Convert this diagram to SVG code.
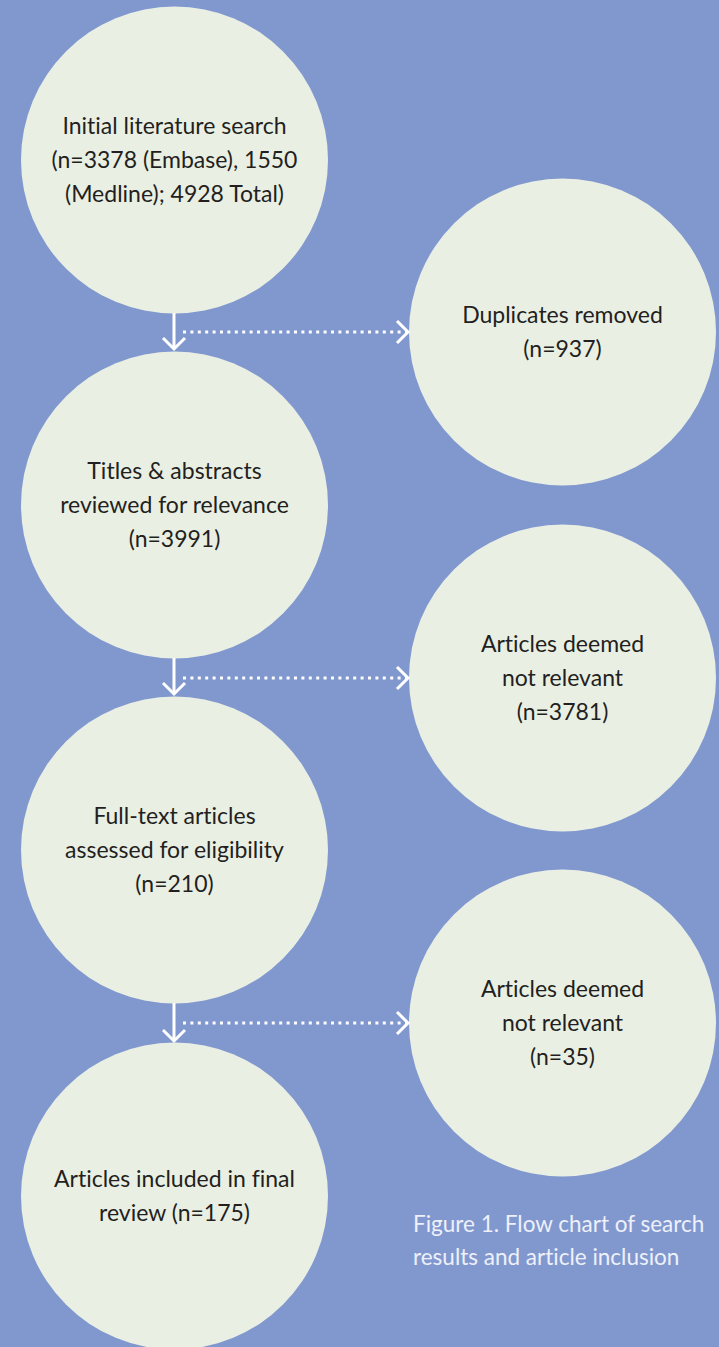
<svg xmlns="http://www.w3.org/2000/svg" width="719" height="1347" viewBox="0 0 719 1347">
<style>
.node circle{fill:#eaefe4}
.node text{font-family:Lato,"Liberation Sans",sans-serif;font-size:23px;fill:#231f20;text-anchor:middle;font-variant-ligatures:no-common-ligatures}
.cap{font-family:Lato,"Liberation Sans",sans-serif;font-size:22.5px;fill:#eef0fa;font-variant-ligatures:no-common-ligatures}
.solid{stroke:#fff;stroke-width:3;fill:none}
.dot{stroke:#fff;stroke-width:3.2;fill:none;stroke-dasharray:3 4.4}
.head{stroke:#fff;stroke-width:3;fill:none;stroke-linejoin:miter}
</style>
<rect width="719" height="1347" fill="#8198cf"/>
<g id="n1" class="node"><circle cx="174.5" cy="160" r="153.5"/>
<text x="174.5" y="134">Initial literature search</text>
<text x="174.5" y="168">(n=3378 (Embase), 1550</text>
<text x="174.5" y="202">(Medline); 4928 Total)</text></g>
<g id="n2" class="node"><circle cx="174.5" cy="505" r="153.5"/>
<text x="174.5" y="479">Titles &amp; abstracts</text>
<text x="174.5" y="513">reviewed for relevance</text>
<text x="174.5" y="547">(n=3991)</text></g>
<g id="n3" class="node"><circle cx="174.5" cy="850" r="153.5"/>
<text x="174.5" y="824">Full-text articles</text>
<text x="174.5" y="858">assessed for eligibility</text>
<text x="174.5" y="892">(n=210)</text></g>
<g id="n4" class="node"><circle cx="174.5" cy="1196" r="153.5"/>
<text x="174.5" y="1187">Articles included in final</text>
<text x="174.5" y="1221">review (n=175)</text></g>
<g id="r1" class="node"><circle cx="562.5" cy="332" r="153.5"/>
<text x="562.5" y="323">Duplicates removed</text>
<text x="562.5" y="357">(n=937)</text></g>
<g id="r2" class="node"><circle cx="562.5" cy="678" r="153.5"/>
<text x="562.5" y="652">Articles deemed</text>
<text x="562.5" y="686">not relevant</text>
<text x="562.5" y="720">(n=3781)</text></g>
<g id="r3" class="node"><circle cx="562.5" cy="1023" r="153.5"/>
<text x="562.5" y="997">Articles deemed</text>
<text x="562.5" y="1031">not relevant</text>
<text x="562.5" y="1065">(n=35)</text></g>
<g id="connectors">
<line class="solid" x1="174" y1="313" x2="174" y2="349"/>
<polyline class="head" points="163,338 174,349 185,338"/>
<line class="dot" x1="183" y1="332" x2="406" y2="332"/>
<polyline class="head" points="397,321 408,332 397,343"/>
<line class="solid" x1="174" y1="658" x2="174" y2="694"/>
<polyline class="head" points="163,683 174,694 185,683"/>
<line class="dot" x1="183" y1="678" x2="406" y2="678"/>
<polyline class="head" points="397,667 408,678 397,689"/>
<line class="solid" x1="174" y1="1003" x2="174" y2="1041"/>
<polyline class="head" points="163,1030 174,1041 185,1030"/>
<line class="dot" x1="183" y1="1023" x2="406" y2="1023"/>
<polyline class="head" points="397,1012 408,1023 397,1034"/>
</g>
<text class="cap" x="413" y="1232">Figure 1. Flow chart of search</text>
<text class="cap" x="413" y="1265">results and article inclusion</text>
</svg>
